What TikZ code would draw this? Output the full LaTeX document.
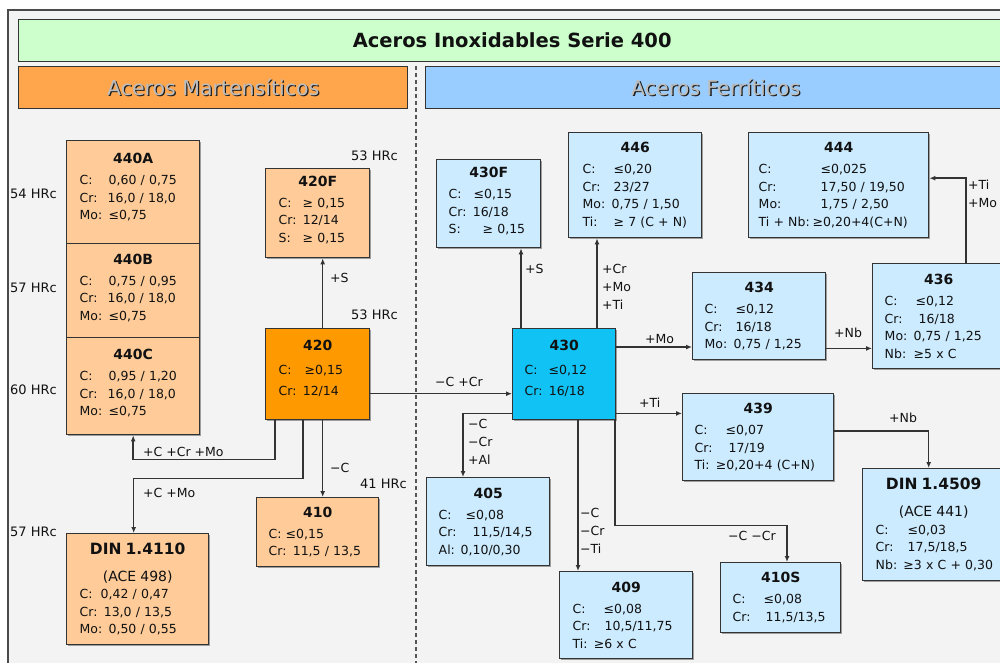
\documentclass[tikz,border=0pt]{standalone}
\usepackage{fontspec}
\setmainfont{DejaVu Sans}
\usetikzlibrary{arrows.meta,shadows}
\definecolor{bgc}{HTML}{F3F3F3}
\definecolor{framec}{HTML}{4A4A4A}
\definecolor{greenc}{HTML}{CCFFCC}
\definecolor{orangeh}{HTML}{FFA64D}
\definecolor{blueh}{HTML}{99CCFF}
\definecolor{peach}{HTML}{FFCC99}
\definecolor{orange420}{HTML}{FF9900}
\definecolor{lblue}{HTML}{CCEBFF}
\definecolor{cyan430}{HTML}{11C2F5}
\definecolor{bordc}{HTML}{333333}
\definecolor{linec}{HTML}{333333}
\definecolor{txtc}{HTML}{111111}
\definecolor{emblight}{HTML}{BDBDBD}
\definecolor{embdark}{HTML}{1E1E1E}
\definecolor{dashc}{HTML}{555555}
\newcommand\bodyfont{\fontsize{12.5pt}{17.5pt}\selectfont}
\newcommand\lblfont{\fontsize{12.5pt}{18pt}\selectfont}
\newcommand\ttlfont{\fontsize{14pt}{17.5pt}\selectfont\bfseries}
\newcommand\dinfont{\fontsize{15.5pt}{17.5pt}\selectfont\bfseries}
\newcommand\acefont{\fontsize{14pt}{17.5pt}\selectfont}
\newcommand\hrcfont{\fontsize{13pt}{16pt}\selectfont}
\newcommand\bxt[1]{\makebox[\hsize]{\ttlfont #1}}
\newcommand\Lbl[2]{\makebox[#1][l]{#2}}
\newcommand\lift[1]{\rule[-#1]{0pt}{1pt}}
\newcommand\embtxt[1]{\makebox[0pt][l]{\hspace{1.3pt}\raisebox{-1.3pt}{\textcolor{embdark}{#1}}}\textcolor{emblight}{#1}}
\tikzset{
  box/.style={draw=bordc, line width=1.4pt, anchor=north west, inner ysep=0pt,
    align=left, font=\bodyfont, text=txtc,
    drop shadow={shadow xshift=1.2pt, shadow yshift=-1.2pt, fill=black, opacity=0.35}},
  pbox/.style={box, fill=peach},
  bbox/.style={box, fill=lblue},
  hdr/.style={draw=bordc, line width=1.4pt, anchor=north west, inner sep=0pt, minimum height=42pt},
  conn/.style={draw=linec, line width=1.5pt, -{Latex[length=6pt,width=5pt]}},
  lbl/.style={font=\lblfont, text=txtc, inner sep=0pt, anchor=west, align=left},
  hrc/.style={font=\hrcfont, text=txtc, inner sep=0pt, anchor=west},
}
\begin{document}
\begin{tikzpicture}[x=1pt,y=-1pt]
\useasboundingbox (0,0) rectangle (1000,663);
\clip (0,0) rectangle (1000,663);
\fill[white] (0,0) rectangle (1000,663);
\draw[framec, line width=1.4pt, fill=bgc] (8,10) rectangle (1012,680);

% headers
\node[hdr, fill=greenc, minimum width=987pt, font=\fontsize{19.5pt}{22pt}\selectfont\bfseries, text=txtc] (ht) at (18,19) {Aceros Inoxidables Serie 400};
\node[hdr, fill=orangeh, minimum width=389pt, font=\fontsize{20.5pt}{24pt}\selectfont] (hm) at (18,66) {\embtxt{Aceros Martensíticos}};
\node[hdr, fill=blueh, minimum width=580pt, font=\fontsize{20.5pt}{24pt}\selectfont] (hf) at (425,66) {\embtxt{Aceros Ferríticos}};
\draw[dashc, line width=1.8pt, dash pattern=on 4pt off 3pt] (416,66) -- (416,663);

% martensitic boxes
\node[pbox, minimum width=133pt, minimum height=103pt, inner xsep=13pt, text width=107pt] (a440A) at (66,140) {\bxt{440A}\\[3.5pt]
\Lbl{29pt}{C:}0,60 / 0,75\\
\Lbl{28pt}{Cr:}16,0 / 18,0\\
Mo: ≤0,75\lift{11pt}};
\node[pbox, minimum width=133pt, minimum height=94pt, inner xsep=13pt, text width=107pt] (a440B) at (66,243) {\bxt{440B}\\[3.5pt]
\Lbl{29pt}{C:}0,75 / 0,95\\
\Lbl{28pt}{Cr:}16,0 / 18,0\\
Mo: ≤0,75\lift{7pt}};
\node[pbox, minimum width=133pt, minimum height=97pt, inner xsep=13pt, text width=107pt] (a440C) at (66,337) {\bxt{440C}\\[3.5pt]
\Lbl{29pt}{C:}0,95 / 1,20\\
\Lbl{28pt}{Cr:}16,0 / 18,0\\
Mo: ≤0,75\lift{7pt}};
\node[pbox, minimum width=104pt, minimum height=89pt, inner xsep=13pt, text width=78pt] (a420F) at (265,168) {\bxt{420F}\\[3.5pt]
\Lbl{24pt}{C:}≥ 0,15\\
Cr: 12/14\\
\Lbl{24pt}{S:}≥ 0,15\lift{8pt}};
\node[box, fill=orange420, minimum width=104pt, minimum height=91pt, inner xsep=13pt, text width=78pt] (a420) at (265,328) {\bxt{420}\\[6.5pt]
\Lbl{26pt}{C:}≥0,15\\[3.5pt]
Cr: 12/14\lift{13pt}};
\node[pbox, minimum width=122pt, minimum height=69pt, inner xsep=12pt, text width=98pt] (a410) at (256,497) {\bxt{410}\\[3.5pt]
\Lbl{17pt}{C:}≤0,15\\
\mbox{Cr: 11,5 / 13,5}};
\node[pbox, minimum width=142pt, minimum height=111pt, inner xsep=13pt, text width=116pt] (din4110) at (66,533) {\makebox[\hsize]{\dinfont DIN 1.4110}\\[9.5pt]
\makebox[\hsize]{\acefont (ACE 498)}\\
\Lbl{21pt}{C:}0,42 / 0,47\\
Cr: 13,0 / 13,5\\
Mo: 0,50 / 0,55};

% ferritic boxes
\node[box, fill=cyan430, minimum width=103pt, minimum height=91pt, inner xsep=12pt, text width=79pt] (n430) at (512,328) {\bxt{430}\\[6.5pt]
\Lbl{24pt}{C:}≤0,12\\[3.5pt]
Cr: 16/18\lift{13pt}};
\node[bbox, minimum width=104pt, minimum height=88pt, inner xsep=12pt, text width=80pt] (f430F) at (436,159) {\bxt{430F}\\[3.5pt]
\Lbl{25pt}{C:}≤0,15\\
Cr: 16/18\\
\Lbl{34pt}{S:}≥ 0,15\lift{6pt}};
\node[bbox, minimum width=133pt, minimum height=105pt, inner xsep=14pt, text width=105pt] (f446) at (568,132) {\bxt{446}\\[3.5pt]
\Lbl{31pt}{C:}≤0,20\\
\Lbl{31pt}{Cr:}23/27\\
Mo: 0,75 / 1,50\\
\mbox{\Lbl{31pt}{Ti:}≥ 7 (C + N)}};
\node[bbox, minimum width=180pt, minimum height=105pt, inner xsep=10pt, text width=160pt] (f444) at (748,132) {\bxt{444}\\[3.5pt]
\Lbl{62pt}{C:}≤0,025\\
\Lbl{62pt}{Cr:}17,50 / 19,50\\
\Lbl{62pt}{Mo:}1,75 / 2,50\\
\mbox{\Lbl{54pt}{Ti + Nb:}≥0,20+4(C+N)}};
\node[bbox, minimum width=132pt, minimum height=105pt, inner xsep=12pt, text width=108pt] (f436) at (872,263) {\bxt{436}\\[3.5pt]
\Lbl{31pt}{C:}≤0,12\\
\Lbl{34pt}{Cr:}16/18\\
Mo: 0,75 / 1,25\\
\Lbl{29pt}{Nb:}≥5 x C};
\node[bbox, minimum width=133pt, minimum height=87pt, inner xsep=12pt, text width=109pt] (f434) at (692,272) {\bxt{434}\\[3.5pt]
\Lbl{31pt}{C:}≤0,12\\
\Lbl{31pt}{Cr:}16/18\\
Mo: 0,75 / 1,25};
\node[bbox, minimum width=151pt, minimum height=87pt, inner xsep=12pt, text width=127pt] (f439) at (682,393) {\bxt{439}\\[3.5pt]
\Lbl{31pt}{C:}≤0,07\\
\Lbl{34pt}{Cr:}17/19\\
\mbox{Ti: ≥0,20+4 (C+N)}};
\node[bbox, minimum width=142pt, minimum height=112pt, inner xsep=13pt, text width=116pt] (din4509) at (862,468) {\makebox[\hsize]{\dinfont DIN 1.4509}\\[9.5pt]
\makebox[\hsize]{\acefont (ACE 441)}\\
\Lbl{32pt}{C:}≤0,03\\
\Lbl{32pt}{Cr:}17,5/18,5\\
\mbox{Nb: ≥3 x C + 0,30}};
\node[bbox, minimum width=123pt, minimum height=88pt, inner xsep=12pt, text width=99pt] (f405) at (426,477) {\bxt{405}\\[3.5pt]
\Lbl{27pt}{C:}≤0,08\\
\Lbl{34pt}{Cr:}11,5/14,5\\
\Lbl{22pt}{Al:}0,10/0,30};
\node[bbox, minimum width=133pt, minimum height=87pt, inner xsep=13pt, text width=107pt] (f409) at (559,571) {\bxt{409}\\[3.5pt]
\Lbl{31pt}{C:}≤0,08\\
\Lbl{32pt}{Cr:}10,5/11,75\\
Ti: ≥6 x C};
\node[bbox, minimum width=120pt, minimum height=70pt, inner xsep=12pt, text width=96pt] (f410S) at (720,562) {\bxt{410S}\\[3.5pt]
\Lbl{31pt}{C:}≤0,08\\
\Lbl{33pt}{Cr:}11,5/13,5};

% hardness labels
\node[hrc] (h1) at (10,194) {54 HRc};
\node[hrc] (h2) at (10,288) {57 HRc};
\node[hrc] (h3) at (10,390) {60 HRc};
\node[hrc] (h4) at (10,532) {57 HRc};
\node[hrc] (h5) at (351,156) {53 HRc};
\node[hrc] (h6) at (351,315) {53 HRc};
\node[hrc] (h7) at (360,484) {41 HRc};

% connectors
\coordinate (s1) at ([xshift=5pt]a420.north);
\draw[conn] (s1) -- (s1 |- a420F.south);
\coordinate (s2) at ([yshift=-19.5pt]a420.east);
\draw[conn] (s2) -- (s2 -| n430.west);
\coordinate (s3) at ([xshift=10pt]a420.south west);
\draw[conn] (s3) -- ++(0,39) -| (a440C.south);
\coordinate (s4) at ([xshift=38pt]a420.south west);
\coordinate (d4) at ([xshift=-4pt]din4110.north);
\draw[conn] (s4) -- ++(0,58) -| (d4);
\coordinate (s5) at ([xshift=5pt]a420.south);
\draw[conn] (s5) -- (s5 |- a410.north);
\coordinate (s6) at ([xshift=9pt]n430.north west);
\draw[conn] (s6) -- (s6 |- f430F.south);
\coordinate (s7) at ([xshift=85pt]n430.north west);
\draw[conn] (s7) -- (s7 |- f446.south);
\coordinate (s8) at ([yshift=-19pt]n430.north east);
\draw[conn] (s8) -- (s8 -| f434.west);
\coordinate (s9) at ([yshift=12pt]f434.south east);
\draw[conn] (s9) -- (s9 -| f436.west);
\coordinate (s10) at ([xshift=94pt]f436.north west);
\coordinate (d10) at ([yshift=7pt]f444.east);
\draw[conn] (s10) |- (d10);
\coordinate (s11) at ([yshift=7pt]n430.south east);
\draw[conn] (s11) -- (s11 -| f439.west);
\coordinate (s12) at ([yshift=6pt]f439.east);
\coordinate (d12) at ([xshift=-5pt]din4509.north);
\draw[conn] (s12) -| (d12);
\coordinate (s13) at ([yshift=7pt]n430.south west);
\coordinate (d13) at ([xshift=37pt]f405.north west);
\draw[conn] (s13) -| (d13);
\coordinate (s14) at ([xshift=66pt]n430.south west);
\draw[conn] (s14) -- (s14 |- f409.north);
\coordinate (s15) at ([xshift=-1.5pt]n430.south east);
\coordinate (d15) at ([xshift=67pt]f410S.north west);
\draw[conn] (s15) -- ++(0,105) -| (d15);

% connector labels
\node[lbl] (c1) at (330,278) {+S};
\node[lbl] (c2) at (435,382) {−C +Cr};
\node[lbl] (c3) at (143,452) {+C +Cr +Mo};
\node[lbl] (c4) at (143,493) {+C +Mo};
\node[lbl] (c5) at (330,468) {−C};
\node[lbl] (c6) at (525,269) {+S};
\node[lbl] (c7) at (602,287) {+Cr\\+Mo\\+Ti};
\node[lbl] (c8) at (645,339) {+Mo};
\node[lbl] (c9) at (834,333) {+Nb};
\node[lbl] (c10) at (968,194) {+Ti\\+Mo};
\node[lbl] (c11) at (639,403) {+Ti};
\node[lbl] (c12) at (889,418) {+Nb};
\node[lbl] (c13) at (468,442) {−C\\−Cr\\+Al};
\node[lbl] (c14) at (580,531) {−C\\−Cr\\−Ti};
\node[lbl] (c15) at (728,536) {−C −Cr};
\end{tikzpicture}
\end{document}
